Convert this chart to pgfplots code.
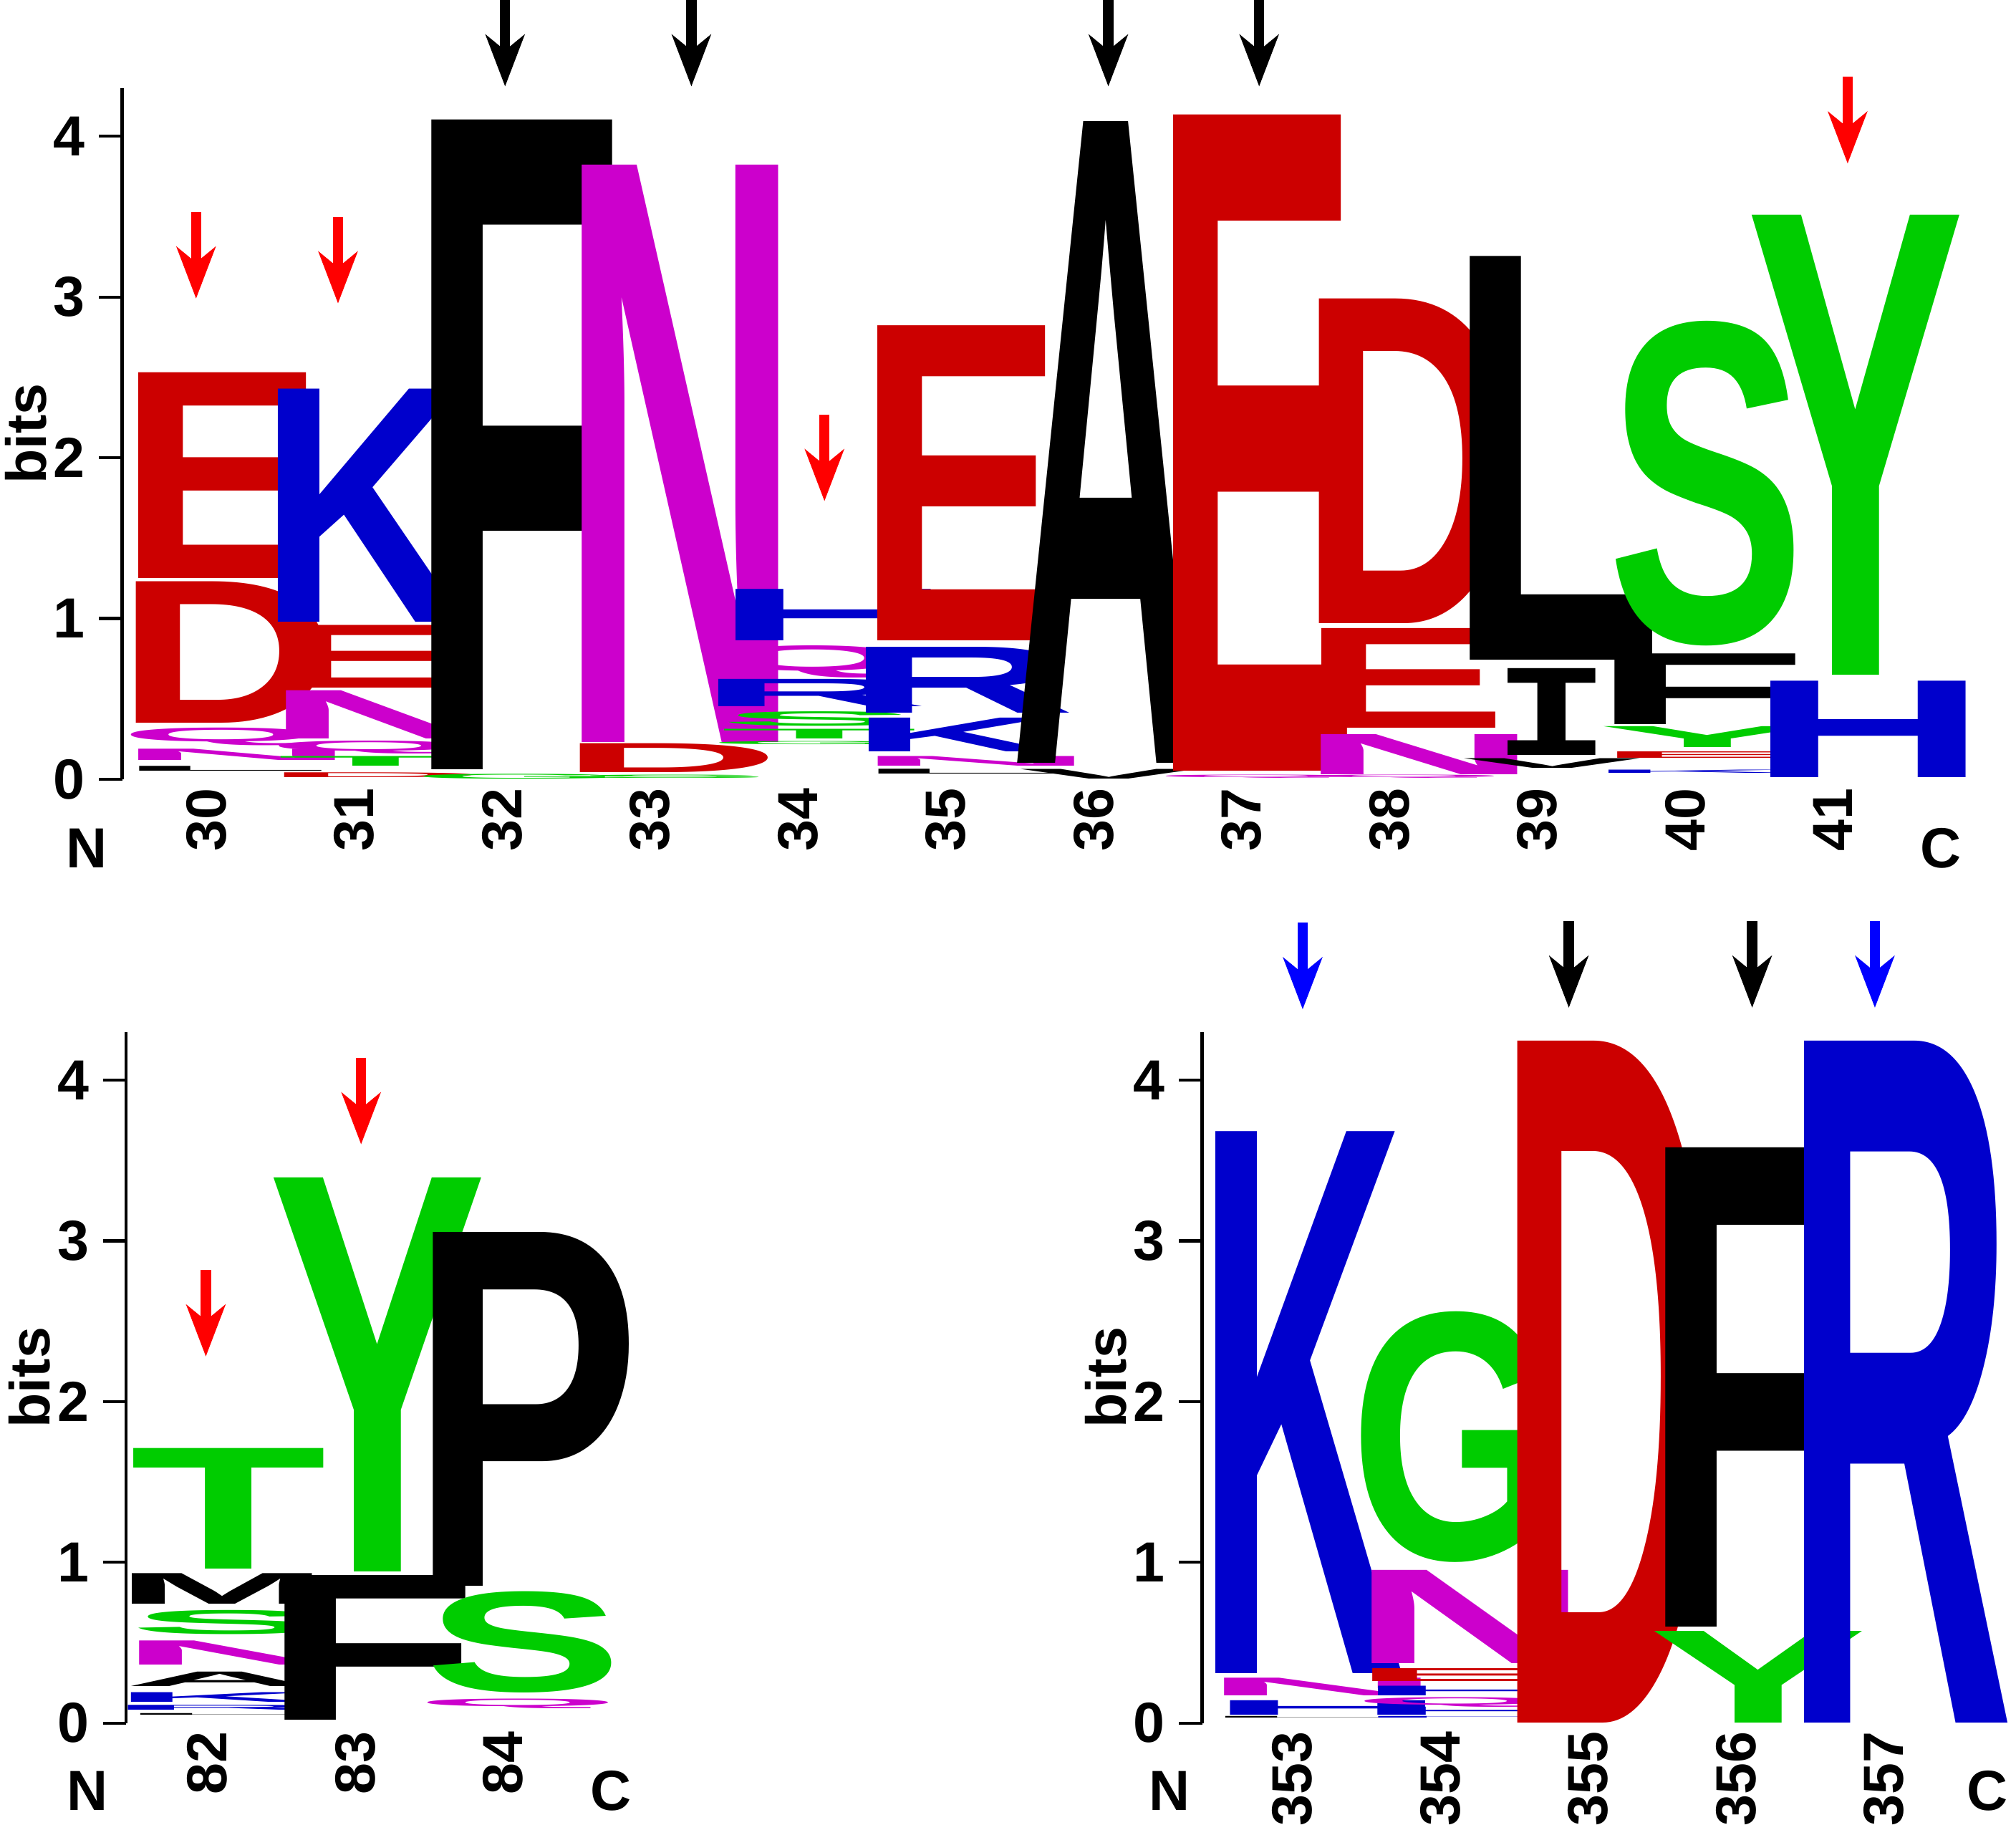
\documentclass[border=0pt]{standalone}
\usepackage{graphicx}
\usepackage{pgfplots}
\pgfplotsset{compat=1.18}
\usetikzlibrary{arrows.meta}
\usepackage{fontspec}
\setmainfont{Liberation Sans}
\newfontfamily\monof{Liberation Mono}
\definecolor{lred}{HTML}{CC0000}
\definecolor{lblue}{HTML}{0000CC}
\definecolor{lmag}{HTML}{CC00CC}
\definecolor{lgreen}{HTML}{00CC00}
\definecolor{ared}{HTML}{FF0000}
\definecolor{ablue}{HTML}{0000FF}
\makeatletter
% letter, box width, colour, kern (twice the wanted horizontal shift)
\newcommand\defletter[4]{\@namedef{lw@#1}{#2}\@namedef{lc@#1}{#3}\@namedef{lk@#1}{#4}}
\makeatother
\defletter{A}{37pt}{black}{-1pt}
\defletter{D}{43pt}{lred}{2pt}
\defletter{E}{40.2pt}{lred}{0pt}
\defletter{F}{42.3pt}{black}{0pt}
\defletter{G}{40.7pt}{lgreen}{0pt}
\defletter{H}{46.6pt}{lblue}{8pt}
\defletter{I}{22.9pt}{black}{0pt}
\defletter{K}{40.5pt}{lblue}{-2.5pt}
\defletter{L}{42.2pt}{black}{1pt}
\defletter{M}{41.7pt}{black}{0pt}
\defletter{N}{46.9pt}{lmag}{6pt}
\defletter{P}{44.9pt}{black}{3pt}
\defletter{Q}{39.3pt}{lmag}{0pt}
\defletter{R}{45pt}{lblue}{0pt}
\defletter{S}{38.5pt}{lgreen}{2.5pt}
\defletter{T}{38.3pt}{lgreen}{2.5pt}
\defletter{V}{35pt}{black}{0pt}
\defletter{Y}{42.5pt}{lgreen}{3pt}
\newcommand\logoglyph[2]{%
  \edef\lgL{#1}%
  \edef\lgC{\csname lc@\lgL\endcsname}%
  \edef\lgW{\csname lw@\lgL\endcsname}%
  \edef\lgK{\csname lk@\lgL\endcsname}%
  \kern\lgK\textcolor{\lgC}{\resizebox*{\lgW}{#2pt}{\bfseries\if I\lgL\monof\bfseries\fi\lgL}}}
\newcommand\lblfont{\fontsize{11}{13}\selectfont\bfseries}
\pgfplotsset{
  logo/.style={
    x=28.75pt, y=31.25pt, ymin=0, ymax=4.3, clip=false,
    anchor=south west,
    axis lines=left, axis line style={-, line width=0.6pt},
    x axis line style={draw=none},
    xtick style={draw=none},
    ytick={0,1,2,3,4}, yticklabels={0,1,2,3,4},
    ytick style={line width=0.6pt, black},
    tick align=outside, major tick length=4.5pt,
    every tick label/.append style={font=\lblfont},
    xticklabel style={anchor=north, inner sep=0pt, yshift=3pt},
    yticklabel style={inner sep=0pt, xshift=-2.5pt},
    ylabel={bits},
    ylabel style={font=\lblfont, anchor=center, at={([xshift=-18.75pt]axis description cs:0,0.5)}},
  },
  letters/.style={
    only marks, mark=o, mark size=0pt, mark options={draw=none},
    point meta=explicit symbolic,
    visualization depends on={31.25*\thisrow{h} \as \hh},
    nodes near coords={\logoglyph{\pgfplotspointmeta}{\hh}},
    every node near coord/.append style={anchor=south, inner sep=0pt, outer sep=0pt, xshift=2.9pt},
  },
  arr/.style={line width=2pt, quiver={u=0,v=-0.54}, -{Stealth[length=10pt,width=7.5pt,inset=3pt]}},
}
\begin{document}
\begin{tikzpicture}
\path[use as bounding box] (0pt,0pt) rectangle (392pt,-355.75pt);
% ---------------- top logo ----------------
\begin{axis}[logo, at={(23.75pt,-151.5pt)}, xmin=29.43, xmax=41.9,
  xtick={30,...,41},
  xticklabels={{\rotatebox{90}{30}},{\rotatebox{90}{31}},{\rotatebox{90}{32}},{\rotatebox{90}{33}},{\rotatebox{90}{34}},{\rotatebox{90}{35}},{\rotatebox{90}{36}},{\rotatebox{90}{37}},{\rotatebox{90}{38}},{\rotatebox{90}{39}},{\rotatebox{90}{40}},{\rotatebox{90}{41}}}]
\addplot[letters] table[x=x, y=y, meta=L] {
x y h L
30 0.05 0.03 L
30 0.12 0.07 N
30 0.21 0.11 Q
30 0.35 0.88 D
30 1.25 1.28 E
31 0.01 0.03 D
31 0.08 0.06 T
31 0.16 0.08 Q
31 0.25 0.30 N
31 0.57 0.39 E
31 0.98 1.45 K
32 0.00 0.03 G
32 0.06 4.04 F
33 0.00 0.02 S
33 0.04 0.18 D
33 0.23 3.59 N
34 0.21 0.02 G
34 0.25 0.06 T
34 0.33 0.09 S
34 0.45 0.17 R
34 0.63 0.20 Q
34 0.86 0.32 H
35 0.03 0.03 L
35 0.08 0.06 N
35 0.17 0.21 K
35 0.41 0.41 R
35 0.86 1.96 E
36 0.00 0.06 V
36 0.10 3.99 A
37 0.00 0.02 Q
37 0.05 4.08 E
38 0.00 0.02 Q
38 0.03 0.25 N
38 0.32 0.62 E
38 0.97 2.02 D
39 0.07 0.06 V
39 0.15 0.54 I
39 0.74 2.51 L
40 0.03 0.02 K
40 0.13 0.04 E
40 0.20 0.13 Y
40 0.34 0.44 F
40 0.83 2.02 S
41 0.01 0.60 H
41 0.65 2.86 Y
};
\addplot[arr, black] coordinates {(32.02,4.85) (33.28,4.85) (36.10,4.85) (37.12,4.85)};
\addplot[arr, ared] coordinates {(29.93,3.53) (30.89,3.50) (34.18,2.27) (41.10,4.37)};
\node[font=\lblfont] at (axis cs:29.19,-0.43) {N};
\node[font=\lblfont] at (axis cs:41.73,-0.43) {C};
\end{axis}
% ---------------- bottom left ----------------
\begin{axis}[logo, at={(24.5pt,-335pt)}, xmin=81.45, xmax=84.9,
  xtick={82,83,84},
  xticklabels={{\rotatebox{90}{82}},{\rotatebox{90}{83}},{\rotatebox{90}{84}}}]
\addplot[letters] table[x=x, y=y, meta=L] {
x y h L
82 0.04 0.01 L
82 0.08 0.03 R
82 0.13 0.06 K
82 0.23 0.09 A
82 0.36 0.15 N
82 0.55 0.15 S
82 0.74 0.19 M
82 0.96 0.75 T
83 0.02 0.90 F
83 0.94 2.45 Y
84 0.09 0.06 Q
84 0.19 0.63 S
84 0.85 2.20 P
};
\addplot[arr, ared] coordinates {(81.99,2.82) (83.04,4.14)};
\node[font=\lblfont] at (axis cs:81.19,-0.42) {N};
\node[font=\lblfont] at (axis cs:84.73,-0.42) {C};
\end{axis}
% ---------------- bottom right ----------------
\begin{axis}[logo, at={(233.75pt,-335pt)}, xmin=352.39, xmax=357.9,
  xtick={353,...,357},
  xticklabels={{\rotatebox{90}{353}},{\rotatebox{90}{354}},{\rotatebox{90}{355}},{\rotatebox{90}{356}},{\rotatebox{90}{357}}}]
\addplot[letters] table[x=x, y=y, meta=L] {
x y h L
353 0.02 0.01 L
353 0.05 0.09 H
353 0.17 0.11 N
353 0.31 3.37 K
354 0.02 0.01 H
354 0.05 0.05 H
354 0.10 0.06 Q
354 0.17 0.06 H
354 0.26 0.08 E
354 0.37 0.58 N
354 1.00 1.56 G
355 0.00 4.24 D
356 0.00 0.57 Y
356 0.60 2.98 F
357 0.00 4.24 R
};
\addplot[arr, black] coordinates {(354.87,4.99) (356.11,4.99)};
\addplot[arr, ablue] coordinates {(353.07,4.98) (356.94,4.99)};
\node[font=\lblfont] at (axis cs:352.17,-0.42) {N};
\node[font=\lblfont] at (axis cs:357.7,-0.42) {C};
\end{axis}
\end{tikzpicture}
\end{document}
